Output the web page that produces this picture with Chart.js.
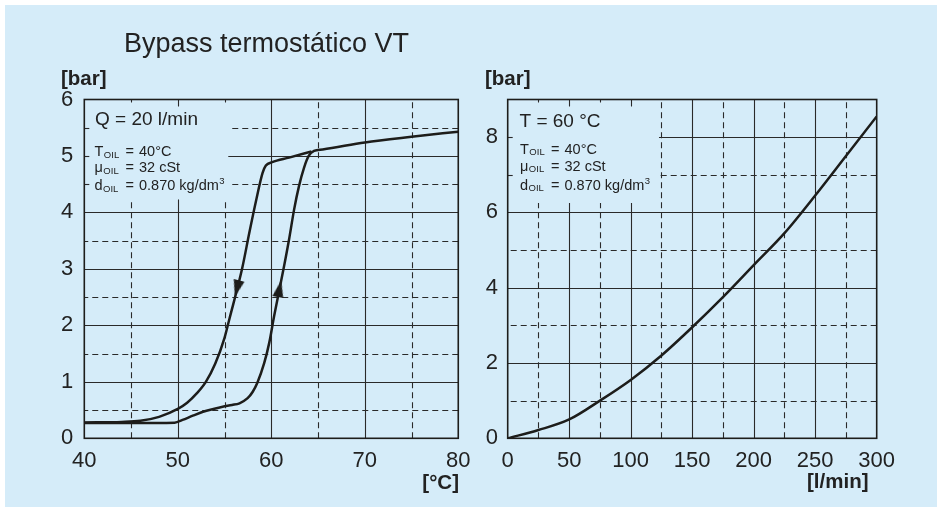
<!DOCTYPE html>
<html>
<head>
<meta charset="utf-8">
<script src="https://cdn.jsdelivr.net/npm/chart.js@4.4.0/dist/chart.umd.min.js"></script>
<style>
  html, body { margin: 0; padding: 0; background: #fff; }
  #panel { position: absolute; left: 5px; top: 5px; width: 932px; height: 502px; background: #d5ecf9; }
  canvas { position: absolute; top: 0; }
  #left { left: 0; }
  #right { left: 480px; }
</style>
</head>
<body>
<div id="panel"></div>
<canvas id="left" width="480" height="507"></canvas>
<canvas id="right" width="457" height="507"></canvas>
<script>
// tick labels
const tempTicks = [40, 50, 60, 70, 80];
const barTicksLeft = [0, 1, 2, 3, 4, 5, 6];
const flowTicks = [0, 50, 100, 150, 200, 250, 300];
const barTicksRight = [0, 2, 4, 6, 8];

// left chart: pressure vs temperature (hysteresis loop)
const heatingT = [40, 45, 49.66, 50.5, 51.6, 52.7, 53.8, 54.8, 55.8, 56.6, 57.47, 58.0, 58.5, 59.24, 59.78, 60.3, 61.37, 61.9, 62.44, 62.97, 63.5, 64.0, 64.57, 65.5, 70, 75, 80];
const heatingP = [0.27, 0.27, 0.277, 0.325, 0.40, 0.47, 0.52, 0.56, 0.59, 0.62, 0.71, 0.82, 0.98, 1.33, 1.69, 2.16, 3.05, 3.52, 4.05, 4.47, 4.79, 5.0, 5.09, 5.115, 5.24, 5.34, 5.43];
const coolingT = [40, 44, 46, 48, 50, 51, 52, 53, 54, 55, 55.5, 56.9, 57.65, 58.4, 59.07, 59.42, 60.1, 61.9, 64.3];
const coolingP = [0.28, 0.29, 0.31, 0.38, 0.52, 0.63, 0.79, 1.0, 1.32, 1.78, 2.1, 3.02, 3.64, 4.23, 4.70, 4.83, 4.89, 4.97, 5.08];
const arrowT = [56.33, 60.88];
const arrowP = [2.65, 2.65];

// right chart: pressure vs flow
const flowQ = [0, 25, 50, 75, 100, 125, 150, 175, 200, 225, 250, 275, 300];
const flowP = [0, 0.22, 0.5, 1.0, 1.55, 2.2, 2.95, 3.75, 4.6, 5.45, 6.45, 7.5, 8.55];

const FONT = '"Liberation Sans", Arial, Helvetica, sans-serif';
const INK = '#1d1d1b';

function pts(xs, ys) {
  return xs.map((v, i) => ({ x: v, y: ys[i] }));
}

function arrowHead() {
  const c = document.createElement('canvas');
  c.width = 11;
  c.height = 17;
  const g = c.getContext('2d');
  g.fillStyle = INK;
  g.beginPath();
  g.moveTo(5.5, 0);
  g.lineTo(11, 17);
  g.lineTo(0, 17);
  g.closePath();
  g.fill();
  return c;
}

function seg(ctx, x1, y1, x2, y2) {
  ctx.beginPath();
  ctx.moveTo(x1, y1);
  ctx.lineTo(x2, y2);
  ctx.stroke();
}

// grid, text box and frame drawn like the printed sheet
const paperPlugin = {
  id: 'paper',
  beforeDatasetsDraw(chart, args, o) {
    const { ctx, chartArea: a, scales: { x, y } } = chart;
    const bx = x.getPixelForValue(o.boxX);
    const by = y.getPixelForValue(o.boxY);
    ctx.save();
    ctx.strokeStyle = '#2a2a2a';
    ctx.lineWidth = 1.1;
    x.ticks.forEach(t => {
      if (t.value <= x.min || t.value >= x.max) return;
      const px = Math.round(x.getPixelForValue(t.value)) + 0.5;
      const major = o.xMajor.includes(t.value);
      const inBox = px < bx;
      ctx.setLineDash(major ? [] : [6, 4]);
      seg(ctx, px, a.bottom, px, inBox ? by : a.top);
      if (inBox) {
        ctx.setLineDash([]);
        seg(ctx, px, a.top, px, a.top + (major ? 7 : 3));
      }
    });
    y.ticks.forEach(t => {
      if (t.value <= y.min || t.value >= y.max) return;
      const py = Math.round(y.getPixelForValue(t.value)) + 0.5;
      const major = o.yMajor.includes(t.value);
      const inBox = py < by;
      ctx.setLineDash(major ? [] : [6, 4]);
      seg(ctx, a.right, py, inBox ? bx : a.left, py);
      if (inBox) {
        ctx.setLineDash([]);
        seg(ctx, a.left, py, a.left + 5, py);
      }
    });
    ctx.restore();
  },
  afterDatasetsDraw(chart) {
    const { ctx, chartArea: a } = chart;
    ctx.save();
    ctx.strokeStyle = INK;
    ctx.lineWidth = 1.6;
    ctx.strokeRect(a.left, a.top, a.right - a.left, a.bottom - a.top);
    ctx.restore();
  },
  afterDraw(chart, args, o) {
    const ctx = chart.ctx;
    ctx.save();
    ctx.fillStyle = '#222';
    ctx.textBaseline = 'alphabetic';
    (o.labels || []).forEach(l => {
      ctx.font = l.font + ' ' + FONT;
      ctx.textAlign = l.align || 'left';
      ctx.fillText(l.text, l.x, l.y);
    });
    ctx.textAlign = 'left';
    (o.props || []).forEach((p, i) => {
      const x0 = o.propX, yb = o.propY[i];
      ctx.font = '14.5px ' + FONT;
      ctx.fillText(p[0], x0, yb);
      const w = ctx.measureText(p[0]).width;
      ctx.font = '9.5px ' + FONT;
      ctx.fillText('OIL', x0 + w + 0.5, yb + 1.5);
      ctx.font = '14.5px ' + FONT;
      ctx.fillText('=', x0 + 31, yb);
      ctx.fillText(p[1], x0 + 44.5, yb);
      if (p[2]) {
        const vw = ctx.measureText(p[1]).width;
        ctx.font = '9.5px ' + FONT;
        ctx.fillText(p[2], x0 + 44.5 + vw + 0.5, yb - 6);
      }
    });
    ctx.restore();
  }
};

const props = [['T', '40°C'], ['μ', '32 cSt'], ['d', '0.870 kg/dm', '3']];

function axes(xMin, xMax, xStep, xLabels, yMin, yMax, yStep, yLabels, yWidth, yPad) {
  const tickFont = { family: FONT, size: 22 };
  return {
    x: {
      type: 'linear', min: xMin, max: xMax,
      grid: { display: false, drawTicks: false }, border: { display: false },
      ticks: {
        stepSize: xStep, autoSkip: false, maxRotation: 0, padding: 9.5,
        color: '#222', font: tickFont,
        callback: v => xLabels.includes(v) ? String(v) : ''
      },
      afterFit: s => { s.height = 68.7; }
    },
    y: {
      type: 'linear', min: yMin, max: yMax,
      grid: { display: false, drawTicks: false }, border: { display: false },
      ticks: {
        stepSize: yStep, autoSkip: false, padding: yPad,
        color: '#222', font: tickFont,
        callback: v => yLabels.includes(v) ? String(v) : ''
      },
      afterFit: s => { s.width = yWidth; }
    }
  };
}

const arrowImg = arrowHead();

// Left chart
new Chart(document.getElementById('left').getContext('2d'), {
  type: 'line',
  data: {
    datasets: [
      { data: pts(heatingT, heatingP), borderColor: INK, borderWidth: 2.5, pointRadius: 0, cubicInterpolationMode: 'monotone' },
      { data: pts(coolingT, coolingP), borderColor: INK, borderWidth: 2.5, pointRadius: 0, cubicInterpolationMode: 'monotone' },
      { data: pts(arrowT, arrowP), showLine: false, pointStyle: arrowImg, pointRotation: [194.6, 11.2], pointRadius: 8 }
    ]
  },
  options: {
    responsive: false,
    animation: false,
    layout: { padding: { top: 99.5, right: 20, left: 0, bottom: 0 } },
    scales: axes(40, 80, 5, tempTicks, 0, 6, 0.5, barTicksLeft, 84.3, 11),
    plugins: {
      legend: { display: false },
      tooltip: { enabled: false },
      paper: {
        boxX: 55.4, boxY: 4.23, xMajor: tempTicks, yMajor: barTicksLeft,
        labels: [
          { text: 'Bypass termostático VT', x: 124, y: 52, font: '27px' },
          { text: '[bar]', x: 61, y: 85, font: 'bold 20.5px' },
          { text: '[°C]', x: 459, y: 488.5, font: 'bold 20.5px', align: 'right' },
          { text: 'Q = 20 l/min', x: 95, y: 124.5, font: '19px' }
        ],
        props: props, propX: 94.5, propY: [156, 172, 190]
      }
    }
  },
  plugins: [paperPlugin]
});

// Right chart
new Chart(document.getElementById('right').getContext('2d'), {
  type: 'line',
  data: {
    datasets: [
      { data: pts(flowQ, flowP), borderColor: INK, borderWidth: 2.5, pointRadius: 0, cubicInterpolationMode: 'monotone' }
    ]
  },
  options: {
    responsive: false,
    animation: false,
    layout: { padding: { top: 99.5, right: 60.3, left: 0, bottom: 0 } },
    scales: axes(0, 300, 25, flowTicks, 0, 9, 1, barTicksRight, 27.7, 9.7),
    plugins: {
      legend: { display: false },
      tooltip: { enabled: false },
      paper: {
        boxX: 123, boxY: 6.25, xMajor: flowTicks, yMajor: barTicksRight,
        labels: [
          { text: '[bar]', x: 5, y: 85, font: 'bold 20.5px' },
          { text: '[l/min]', x: 388.5, y: 488, font: 'bold 20.5px', align: 'right' },
          { text: 'T = 60 °C', x: 39.5, y: 126.5, font: '19px' }
        ],
        props: props, propX: 40, propY: [153.5, 170.5, 189.5]
      }
    }
  },
  plugins: [paperPlugin]
});
</script>
</body>
</html>
